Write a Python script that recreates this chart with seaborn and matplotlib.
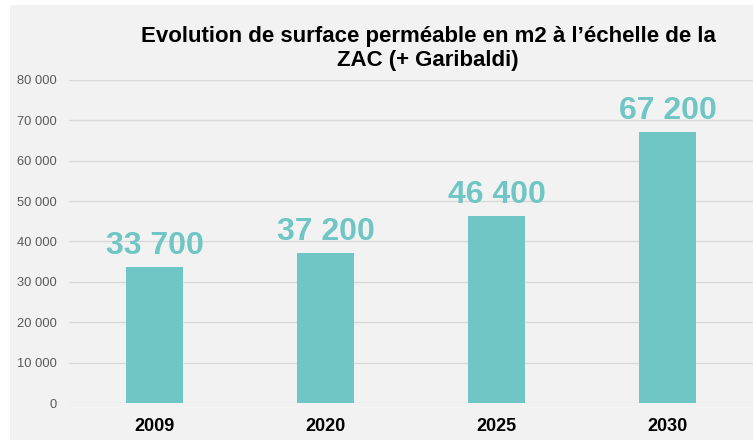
import matplotlib
matplotlib.use("Agg")
import pandas as pd
import seaborn as sns
from matplotlib import pyplot as plt
from matplotlib.patches import Rectangle
from matplotlib.ticker import FuncFormatter

# données
annees = ['2009', '2020', '2025', '2030']
surfaces = [33700, 37200, 46400, 67200]
y_ticks = [0, 10000, 20000, 30000, 40000, 50000, 60000, 70000, 80000]
titre = "Evolution de surface perméable en m2 à l’échelle de la\nZAC (+ Garibaldi)"

teal = '#6fc6c5'
fond = '#f2f2f2'

sns.set_style('white', {'axes.facecolor': fond})
plt.rcParams['font.family'] = ['Liberation Sans', 'DejaVu Sans']

df = pd.DataFrame({'annee': annees, 'surface': surfaces})

fig = plt.figure(figsize=(7.53, 4.40), dpi=100, facecolor='white')
# fond gris du cadre
fig.patches.append(Rectangle((10 / 753, 0), 1, 1 - 5 / 440, transform=fig.transFigure,
                             facecolor=fond, edgecolor='none', zorder=-10))
ax = fig.add_axes([69 / 753, 1 - 403 / 440, 1 - 69 / 753, (403 - 80) / 440])

sns.barplot(data=df, x='annee', y='surface', color=teal, saturation=1,
            width=0.333, linewidth=0, edgecolor='none', ax=ax, zorder=3)

ax.set_ylim(0, 80000)
ax.set_xlim(-0.5, 3.5)
ax.set_yticks(y_ticks)
ax.yaxis.set_major_formatter(FuncFormatter(lambda v, p: f"{int(v):,}".replace(',', ' ')))
ax.grid(axis='y', color='#d9d9d9', linewidth=1, zorder=0)
ax.set_axisbelow(True)
for s in ax.spines.values():
    s.set_visible(False)
ax.tick_params(axis='y', length=0, pad=8.5, labelsize=9.3, labelcolor='#595959')
ax.tick_params(axis='x', length=0, pad=11, labelsize=13, labelcolor='black')
for lbl in ax.get_xticklabels():
    lbl.set_fontweight('bold')
ax.set_xlabel('')
ax.set_ylabel('')

# étiquettes de valeurs
for i, v in enumerate(surfaces):
    ax.annotate(f"{v:,}".replace(',', ' '), (i, v), xytext=(0, 4),
                textcoords='offset points', ha='center', va='bottom',
                fontsize=23, fontweight='bold', color=teal)

fig.text(428 / 753, 1 - 26 / 440, titre, ha='center', va='top', fontsize=16,
         fontweight='bold', color='black', linespacing=1.2)

fig.savefig('out.png', dpi=100, facecolor=fig.get_facecolor())
